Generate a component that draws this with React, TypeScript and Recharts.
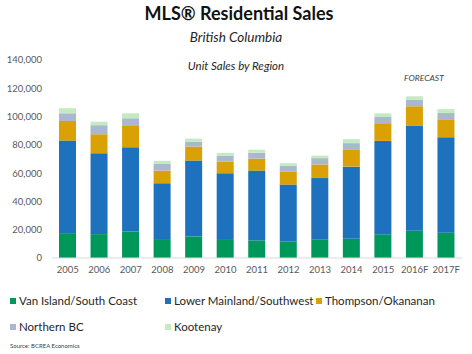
import { BarChart, Bar, XAxis, YAxis } from "recharts";

const years = ["2005", "2006", "2007", "2008", "2009", "2010", "2011", "2012", "2013", "2014", "2015", "2016F", "2017F"];
const vanIsland = [17600, 16900, 18800, 13400, 15300, 13400, 12400, 11700, 12900, 13600, 16700, 19300, 17900];
const lowerMainland = [65400, 57200, 59500, 39500, 53600, 46600, 49400, 40200, 43600, 51000, 66100, 74300, 67500];
const thompson = [13900, 13400, 15100, 8900, 9900, 8200, 8500, 9000, 9600, 11800, 12500, 13700, 12700];
const northern = [5400, 6400, 5400, 4700, 3500, 4000, 4200, 4400, 4500, 4800, 4400, 4600, 4400];
const kootenay = [3600, 2500, 3500, 2200, 2100, 2100, 2100, 1700, 1800, 2800, 2600, 2400, 2700];
const yTicks = [0, 20000, 40000, 60000, 80000, 100000, 120000, 140000];

const series = [
  { key: "van", name: "Van Island/South Coast", color: "#00975A" },
  { key: "lower", name: "Lower Mainland/Southwest", color: "#1E72BD" },
  { key: "thompson", name: "Thompson/Okananan", color: "#D9A103" },
  { key: "northern", name: "Northern BC", color: "#A9B7CF" },
  { key: "kootenay", name: "Kootenay", color: "#C3EAC1" },
];

const data = years.map((year, i) => ({
  year,
  van: vanIsland[i],
  lower: lowerMainland[i],
  thompson: thompson[i],
  northern: northern[i],
  kootenay: kootenay[i],
}));

const font = "Lato, 'Open Sans', sans-serif";
const tickStyle = { fontSize: 9.5, fill: "#595959", fontFamily: font };

const legendPos = [
  { left: 10, top: 294 },
  { left: 165, top: 294 },
  { left: 316, top: 294 },
  { left: 10, top: 320 },
  { left: 165, top: 320 },
];

export default function App() {
  return (
    <div style={{ position: "absolute", left: 0, top: 0, width: 472, height: 354, background: "#fff", fontFamily: font }}>
      <BarChart width={472} height={354} data={data} margin={{ top: 60, right: 10, bottom: 76, left: 0 }}>
        <XAxis
          dataKey="year"
          tick={tickStyle}
          tickLine={false}
          tickSize={0}
          tickMargin={8}
          axisLine={{ stroke: "#D9D9D9" }}
          interval={0}
          height={20}
        />
        <YAxis
          domain={[0, 140000]}
          ticks={yTicks}
          tick={tickStyle}
          tickFormatter={(v: number) => v.toLocaleString("en-US")}
          tickLine={false}
          tickSize={0}
          tickMargin={10}
          axisLine={false}
          width={52}
        />
        {series.map((s) => (
          <Bar key={s.key} dataKey={s.key} name={s.name} stackId="a" fill={s.color} barSize={17} isAnimationActive={false} />
        ))}
      </BarChart>
      <div style={{ position: "absolute", left: 0, width: 472, top: 2, textAlign: "center", fontWeight: 700, fontSize: 18, color: "#111", paddingLeft: 3 }}>
        MLS® Residential Sales
      </div>
      <div style={{ position: "absolute", left: 0, width: 472, top: 29, textAlign: "center", fontStyle: "italic", fontSize: 13.5, color: "#262626" }}>
        British Columbia
      </div>
      <div style={{ position: "absolute", left: 0, width: 472, top: 59, textAlign: "center", fontStyle: "italic", fontSize: 11.5, color: "#262626" }}>
        Unit Sales by Region
      </div>
      <div style={{ position: "absolute", left: 404, top: 73, fontStyle: "italic", fontSize: 8.5, color: "#404040" }}>FORECAST</div>
      {series.map((s, i) => (
        <div key={s.key} style={{ position: "absolute", left: legendPos[i].left, top: legendPos[i].top, display: "flex", alignItems: "center", fontSize: 11.5, color: "#262626", whiteSpace: "nowrap" }}>
          <span style={{ display: "inline-block", width: 6, height: 6, background: s.color, marginRight: 3 }} />
          {s.name}
        </div>
      ))}
      <div style={{ position: "absolute", left: 10, top: 342, fontSize: 6, color: "#404040" }}>Source: BCREA Economics</div>
    </div>
  );
}
